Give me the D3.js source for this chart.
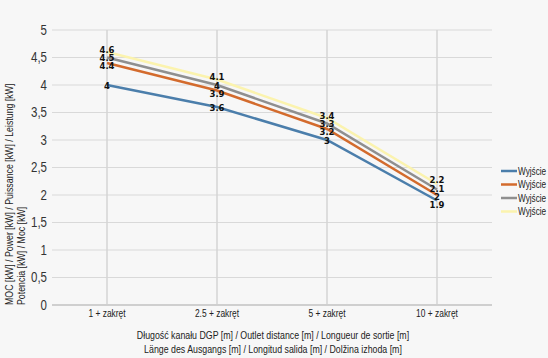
<!DOCTYPE html>
<html><head><meta charset="utf-8">
<script src="https://cdn.jsdelivr.net/npm/d3@7"></script>
<style>
html,body{margin:0;padding:0;background:#f7f7f7;overflow:hidden}
svg{display:block;font-family:"Liberation Sans",Arial,sans-serif}
</style></head><body>
<svg id="c" width="548" height="358"></svg>
<script>
const categories = ["1 + zakręt", "2.5 + zakręt", "5 + zakręt", "10 + zakręt"];
const seriesNames = ["Wyjście 1", "Wyjście 2", "Wyjście 3", "Wyjście 4"];
const s1 = [4, 3.6, 3, 1.9];
const s2 = [4.4, 3.9, 3.2, 2];
const s3 = [4.5, 4, 3.3, 2.1];
const s4 = [4.6, 4.1, 3.4, 2.2];
const yTicks = [0, 0.5, 1, 1.5, 2, 2.5, 3, 3.5, 4, 4.5, 5];
const colors = ["#4b7eab", "#d36b2d", "#8f8f8f", "#fbf3ae"];
const xTitle = ["Długość kanału DGP [m] / Outlet distance [m] / Longueur de sortie [m]",
                "Länge des Ausgangs [m] / Longitud salida [m] / Dolžina izhoda [m]"];
const yTitle = ["MOC [kW] / Power [kW] / Puissance [kW] / Leistung [kW]",
                "Potencia [kW] / Moc [kW]"];

const series = [s1, s2, s3, s4];
const svg = d3.select("#c");
const L = 52, R = 492, T = 30, B = 305;
const x = d3.scaleBand().domain(categories).range([L, R]);
const y = d3.scaleLinear().domain([0, 5]).range([B, T]);
const cx = c => x(c) + x.bandwidth() / 2;

// narrow-font emulation
function condense(sel, k) {
  sel.each(function () {
    const w = this.getComputedTextLength();
    d3.select(this).attr("textLength", w * k).attr("lengthAdjust", "spacingAndGlyphs");
  });
}

// grid
svg.append("g").selectAll("line").data(yTicks).join("line")
  .attr("x1", L).attr("x2", R).attr("y1", d => y(d)).attr("y2", d => y(d))
  .attr("stroke", "#d9d9d9").attr("stroke-width", 1);
svg.append("g").selectAll("line").data(categories).join("line")
  .attr("x1", d => cx(d)).attr("x2", d => cx(d)).attr("y1", T).attr("y2", B)
  .attr("stroke", "#d4d4d4").attr("stroke-width", 1.5);
svg.append("line").attr("x1", L).attr("x2", R).attr("y1", B).attr("y2", B)
  .attr("stroke", "#cfcfcf").attr("stroke-width", 2);

// y axis labels
const ya = svg.append("g").attr("transform", `translate(${L - 5},0)`)
  .call(d3.axisLeft(y).tickValues(yTicks).tickSize(0).tickPadding(0)
    .tickFormat(d => String(d).replace(".", ",")));
ya.select(".domain").remove();
ya.selectAll("text").attr("font-size", 14).attr("fill", "#333").attr("font-family", null)
  .call(condense, 0.82);

// x axis labels
const xa = svg.append("g").attr("transform", `translate(0,${B})`)
  .call(d3.axisBottom(x).tickSize(0).tickPadding(5));
xa.select(".domain").remove();
xa.selectAll("text").attr("font-size", 10.5).attr("fill", "#222").attr("font-family", null)
  .call(condense, 0.8);

// titles
svg.append("g").selectAll("text").data(xTitle).join("text")
  .attr("x", 273).attr("y", (d, i) => 339 + i * 14).attr("text-anchor", "middle")
  .attr("font-size", 11).attr("fill", "#222").text(d => d)
  .call(condense, 0.8);
svg.append("g").selectAll("text").data(yTitle).join("text")
  .attr("transform", (d, i) => `translate(${13 + i * 12},${B}) rotate(-90)`)
  .attr("text-anchor", "start").attr("font-size", 11).attr("fill", "#222").text(d => d)
  .call(condense, 0.8);

// lines
const line = d3.line().x((d, i) => cx(categories[i])).y(d => y(d));
svg.append("g").selectAll("path").data(series).join("path")
  .attr("d", d => line(d)).attr("fill", "none")
  .attr("stroke", (d, i) => colors[i]).attr("stroke-width", 2.5);

// labels with simple collision spreading
const gap = 8.3;
categories.forEach((c, ci) => {
  let items = series.map((s, si) => ({v: s[ci], y: y(s[ci])})).sort((a, b) => a.y - b.y);
  let groups = items.map(it => ({items: [it], c: it.y}));
  let changed = true;
  while (changed) {
    changed = false;
    for (let i = 0; i < groups.length - 1; i++) {
      const a = groups[i], b = groups[i + 1];
      const aBot = a.c + (a.items.length - 1) * gap / 2;
      const bTop = b.c - (b.items.length - 1) * gap / 2;
      if (bTop - aBot < gap) {
        const its = a.items.concat(b.items);
        groups.splice(i, 2, {items: its, c: d3.mean(its, d => d.y)});
        changed = true; break;
      }
    }
  }
  groups.forEach(g => g.items.forEach((it, k) => {
    it.ly = g.c + (k - (g.items.length - 1) / 2) * gap;
  }));
  svg.append("g").selectAll("text").data(items).join("text")
    .attr("x", cx(c)).attr("y", d => d.ly + 0.5).attr("dy", "0.36em")
    .attr("text-anchor", "middle").attr("font-family", "'DejaVu Sans',Verdana,sans-serif")
    .attr("font-size", 8.5).attr("font-weight", "bold").attr("fill", "#111")
    .text(d => d.v);
});

// legend
const lg = svg.append("g").selectAll("g").data(seriesNames).join("g")
  .attr("transform", (d, i) => `translate(501,${171 + i * 13.5})`);
lg.append("line").attr("x1", 0).attr("x2", 16).attr("stroke", (d, i) => colors[i]).attr("stroke-width", 2.5);
lg.append("text").attr("x", 17).attr("dy", "0.35em").attr("font-size", 10).attr("fill", "#222").text(d => d)
  .call(condense, 0.82);
</script></body></html>
